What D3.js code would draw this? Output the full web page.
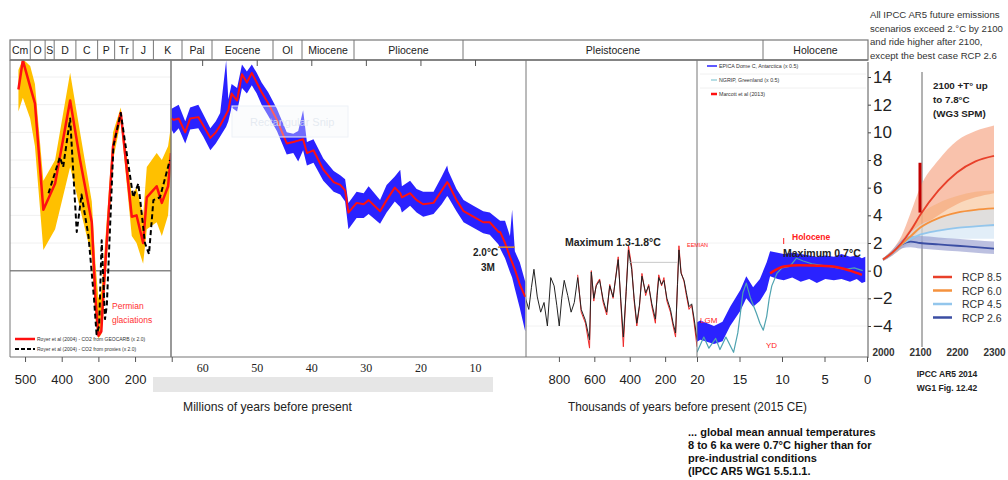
<!DOCTYPE html>
<html>
<head>
<meta charset="utf-8">
<script src="https://cdn.jsdelivr.net/npm/d3@7"></script>
<style>
body { margin: 0; background: #fff; }
svg { display: block; font-family: "Liberation Sans", Arial, sans-serif; }
</style>
</head>
<body>
<div id="chart"></div>
<script>
// ---- Data ----

// Geological periods (start age, Ma)
var periodNames = ["Cm", "O", "S", "D", "C", "P", "Tr", "J", "K", "Pal", "Eocene", "Ol", "Miocene", "Pliocene", "Pleistocene", "Holocene"];
var periodStarts = [541, 485, 444, 419, 359, 299, 252, 201, 145, 66, 56, 34, 23, 5.3, 2.6, 0.0117];

// Royer et al (2004) - GEOCARB (red) with uncertainty band
var geoAge = [518, 506, 486, 473, 450, 418, 377, 350, 318, 308, 300, 292, 287, 260, 239, 209, 196, 178, 168, 141, 127, 110, 102];
var geoTemp = [13.1, 15.2, 13.3, 12.1, 4.4, 6.3, 12.3, 8.0, 3.5, -2.0, -4.7, -4.4, -1.9, 9.0, 11.4, 3.9, 4.0, 2.0, 5.3, 6.1, 4.9, 6.1, 8.5];
var geoLow = [11.5, 12.5, 11.0, 9.0, 1.5, 3.0, 7.5, 4.5, 1.0, -3.5, -4.9, -4.6, -3.5, 8.0, 10.8, 2.5, 2.0, 0.5, 3.0, 3.5, 2.5, 4.0, 7.5];
var geoHigh = [14.5, 15.3, 14.8, 13.5, 6.5, 8.0, 14.3, 10.0, 5.0, 0.5, -2.0, -1.5, 0.0, 10.0, 11.8, 5.5, 6.0, 4.0, 7.5, 8.5, 8.0, 9.0, 10.5];

// Royer et al (2004) - proxies (black dashed)
var proxyAge = [436, 405, 396, 377, 359, 346, 327, 312, 305, 298, 291, 282, 277, 259, 239, 205, 191, 173, 162, 150, 132, 105];
var proxyTemp = [5.6, 8.2, 7.5, 11.0, 2.8, 5.5, 2.5, -2.0, -4.6, -4.0, 2.2, -3.5, -2.5, 9.0, 11.4, 5.3, 6.3, 2.0, 1.2, 5.1, 5.3, 8.0];

// Cenozoic (Ma): smoothed red line and blue spread
var cenAge = [65.6, 65.2, 64.3, 63.1, 62.2, 60.7, 59.8, 58.5, 57.5, 56.7, 55.6, 55.2, 54.6, 53.6, 52.7, 51.8, 50.9, 50.0, 49.1, 47.9, 46.3, 44.5, 43.3, 42.4, 41.5, 40.8, 39.6, 37.8, 35.9, 34.7, 33.8, 33.2, 31.7, 30.4, 29.5, 27.4, 26.2, 24.7, 23.7, 23.4, 21.9, 20.7, 19.5, 17.6, 16.1, 15.1, 14.9, 13.4, 12.1, 10.3, 8.5, 7.3, 5.7, 5.4, 4.5, 3.6, 3.2, 2.7, 1.8, 0.8];
var cenTemp = [11.0, 10.9, 11.0, 10.0, 11.0, 11.1, 10.5, 9.6, 10.0, 10.5, 11.3, 11.6, 12.8, 12.3, 14.2, 13.6, 14.3, 13.6, 12.9, 12.1, 10.9, 9.2, 9.3, 9.4, 9.5, 8.5, 8.7, 7.3, 6.4, 6.2, 5.8, 4.2, 4.9, 4.8, 5.1, 4.3, 5.1, 6.0, 5.6, 5.3, 5.6, 5.1, 4.8, 4.9, 5.8, 6.4, 6.3, 5.1, 4.3, 3.9, 3.5, 3.5, 2.8, 2.8, 2.0, 1.0, 0.6, 0.1, -1.0, -1.9];
var cenLow = [10.2, 9.9, 10.3, 9.2, 10.2, 10.3, 9.7, 8.7, 9.2, 9.7, 10.4, 10.8, 11.8, 11.5, 13.2, 12.8, 13.4, 12.8, 12.0, 11.2, 10.1, 8.4, 8.5, 7.9, 8.7, 7.6, 7.8, 6.5, 5.7, 5.5, 5.0, 3.0, 3.8, 3.8, 4.1, 3.4, 4.2, 5.0, 4.6, 4.2, 4.7, 4.2, 3.9, 4.1, 4.8, 5.4, 5.3, 4.3, 3.5, 3.1, 2.7, 2.6, 1.9, 1.6, 0.9, -0.1, -0.5, -1.3, -2.7, -4.4];
var cenHigh = [11.7, 11.8, 12.0, 10.8, 11.8, 12.0, 11.3, 10.3, 10.8, 11.4, 15.2, 12.4, 13.5, 13.2, 14.9, 14.4, 14.9, 14.3, 13.6, 12.9, 11.7, 10.0, 9.9, 10.1, 11.6, 9.3, 9.5, 8.1, 7.2, 6.9, 6.6, 4.9, 5.7, 5.6, 6.1, 5.1, 6.2, 6.8, 7.3, 6.1, 6.5, 5.9, 5.7, 5.7, 6.8, 7.6, 7.2, 5.9, 5.1, 4.7, 4.3, 4.2, 3.7, 3.6, 3.6, 2.5, 4.4, 1.4, 0.6, -0.8];

// Pleistocene (ka): black and red records
var pleAge = [989, 970, 955, 941, 922, 903, 884, 865, 846, 827, 812, 798, 784, 770, 750, 731, 713, 694, 674, 650, 627, 617, 603, 589, 570, 550, 530, 513, 494, 465, 450, 436, 420, 407, 389, 375, 360, 345, 331, 310, 293, 275, 255, 245, 236, 220, 207, 190, 170, 155, 141, 130, 122, 110, 93, 80, 65, 50, 36, 20];
var pleBlack = [-2.0, -2.8, -1.2, 0.1, -1.9, -3.0, -2.3, -4.0, -0.5, -1.1, -2.5, -4.0, -2.0, -0.7, -1.8, -3.0, -2.3, -0.5, -2.8, -3.6, -5.0, -0.1, -2.0, -1.1, -0.7, -2.1, -3.0, -1.1, -1.9, 0.8, -2.2, -4.8, -1.5, 1.5, 0.1, -2.0, -3.8, -2.5, -0.4, -1.6, -1.1, -2.4, -3.5, -1.8, -0.5, -1.0, -0.7, -2.0, -2.8, -3.8, -4.5, -1.0, 1.5, -0.2, -0.7, -1.6, -2.6, -2.4, -3.5, -5.0];
var pleRedAge = [694, 674, 650, 627, 617, 603, 589, 570, 550, 530, 513, 494, 465, 450, 436, 420, 407, 389, 375, 360, 345, 331, 310, 293, 275, 255, 245, 236, 220, 207, 190, 170, 155, 141, 130, 122, 110, 93, 80, 65, 50, 36, 20];
var pleRed = [-0.3, -3.0, -3.8, -5.6, 0.0, -2.2, -1.0, -0.6, -2.3, -3.2, -1.0, -2.0, 1.0, -2.4, -5.5, -1.4, 1.8, 0.3, -2.2, -4.0, -2.6, -0.2, -1.8, -1.0, -2.6, -3.8, -1.6, -0.3, -1.1, -0.5, -2.2, -3.0, -4.0, -4.8, -0.8, 1.8, -0.1, -0.8, -1.8, -2.8, -2.5, -3.8, -5.5];

// Last 20 ka: EPICA Dome C (blue spread)
var epicaAge = [20.2, 19.6, 18.0, 17.0, 16.1, 14.9, 14.2, 13.4, 12.6, 11.8, 11.4, 10.5, 9.8, 8.8, 7.8, 6.8, 5.9, 4.9, 3.9, 3.0, 2.0, 1.2, 0.6, 0.2];
var epicaTemp = [-4.5, -4.3, -4.7, -4.5, -3.3, -2.1, -1.1, -1.9, -1.4, -0.4, 0.6, 0.4, 0.3, 0.4, 0.2, 0.3, 0.1, 0.3, 0.2, 0.3, 0.1, 0.2, 0.0, 0.1];
var epicaLow = [-5.2, -5.0, -5.3, -5.1, -4.0, -2.9, -2.0, -2.6, -2.2, -1.4, -0.4, -0.6, -0.7, -0.5, -0.8, -0.6, -0.9, -0.6, -0.7, -0.6, -0.8, -0.6, -0.9, -0.8];
var epicaHigh = [-3.8, -3.6, -4.0, -3.7, -2.6, -1.4, -0.4, -1.2, -0.6, 0.6, 1.4, 1.3, 1.2, 1.3, 1.2, 1.1, 1.0, 1.1, 1.0, 1.2, 1.0, 1.1, 0.9, 1.0];

// NGRIP, Greenland
var ngripAge = [20.0, 19.2, 18.6, 17.8, 17.3, 16.6, 15.7, 15.2, 14.9, 14.6, 14.2, 13.7, 13.0, 12.6, 12.2, 11.8, 11.5, 11.2, 10.6, 10.0, 9.1, 8.3, 7.5, 6.5, 5.5, 4.5, 3.5, 2.5, 1.5, 0.5];
var ngripTemp = [-5.9, -4.8, -5.6, -4.9, -5.7, -4.8, -5.9, -4.5, -3.1, -1.6, -0.9, -2.0, -3.1, -3.8, -4.3, -3.3, -2.0, -1.1, -0.2, 0.2, 0.3, 0.9, 0.7, 0.5, 0.4, 0.3, 0.2, 0.1, 0.2, 0.0];

// Marcott et al (2013)
var marcottAge = [11.4, 9.8, 7.9, 5.9, 4.0, 2.0, 0.6];
var marcottTemp = [-0.2, 0.3, 0.4, 0.36, 0.3, 0.0, -0.3];

// IPCC AR5 WG1 Fig. 12.42 projections
var rcpYears = [2000, 2025, 2050, 2075, 2100, 2150, 2200, 2250, 2300];
var rcp85 = [0.8, 1.3, 2.0, 2.9, 4.0, 5.8, 7.1, 7.9, 8.3];
var rcp85Low = [0.7, 1.1, 1.6, 2.2, 3.0, 4.0, 4.8, 5.3, 5.6];
var rcp85High = [0.9, 1.5, 2.5, 4.2, 6.0, 8.0, 9.4, 10.1, 10.5];
var rcp60 = [0.8, 1.3, 1.9, 2.5, 3.1, 3.8, 4.2, 4.4, 4.5];
var rcp60Low = [0.7, 1.1, 1.6, 2.1, 2.5, 2.9, 3.1, 3.2, 3.2];
var rcp60High = [0.9, 1.5, 2.2, 3.1, 4.0, 4.9, 5.4, 5.7, 5.8];
var rcp45 = [0.8, 1.3, 1.9, 2.3, 2.6, 2.9, 3.1, 3.2, 3.3];
var rcp45Low = [0.7, 1.1, 1.6, 1.9, 2.1, 2.2, 2.3, 2.3, 2.3];
var rcp45High = [0.9, 1.5, 2.2, 2.8, 3.3, 3.8, 4.2, 4.4, 4.5];
var rcp26 = [0.8, 1.3, 1.9, 2.1, 2.0, 1.9, 1.8, 1.7, 1.6];
var rcp26Low = [0.7, 1.1, 1.6, 1.7, 1.6, 1.5, 1.4, 1.3, 1.2];
var rcp26High = [0.9, 1.5, 2.2, 2.5, 2.5, 2.4, 2.3, 2.2, 2.1];
var rcpNames = ["RCP 8.5", "RCP 6.0", "RCP 4.5", "RCP 2.6"];
var wg3Range = [4.2, 7.8];

// Tick labels
var tempTicks = [14, 12, 10, 8, 6, 4, 2, 0, -2, -4];
var geoTicks = [500, 400, 300, 200, 100];
var cenTicks = [60, 50, 40, 30, 20, 10];
var pleTicks = [800, 600, 400, 200];
var holTicks = [20, 15, 10, 5, 0];
var rcpTicks = [2000, 2100, 2200, 2300];

// ---- Setup ----
var svgWidth = 1008;
var svgHeight = 480;

var svg = d3.select("#chart")
    .append("svg")
    .attr("width", svgWidth)
    .attr("height", svgHeight);

svg.append("rect").attr("width", svgWidth).attr("height", svgHeight).attr("fill", "#fff");

var top0 = 60, bottom0 = 357;

// Temperature scale shared by all panels
var y = d3.scaleLinear().domain([-4, 14]).range([326, 77]);

// One x scale per panel
var xGeo = d3.scaleLinear().domain([541, 102]).range([10, 171]);
var xCen = d3.scaleLinear().domain([66, 0]).range([169.4, 529.6]);
var xPle = d3.scaleLinear().domain([1000, 20]).range([523.5, 697]);
var xHol = d3.scaleLinear().domain([20, 0]).range([697, 867]);
var xRcp = d3.scaleLinear().domain([2000, 2300]).range([883, 994]);
var xPeriod = d3.scaleLinear()
    .domain([541, 66, 56, 34, 23, 5.3, 2.6, 0.0117, 0])
    .range([10, 182, 212, 273, 302, 354, 463, 763, 868]);

function pairs(xs, ys) { return xs.map(function (d, i) { return [d, ys[i]]; }); }
function spread(xs, lo, hi) { return xs.map(function (d, i) { return { x: d, lo: lo[i], hi: hi[i] }; }); }

function drawLine(g, xScale, xs, ys, color, width, dash, curve) {
    return g.append("path")
        .datum(pairs(xs, ys))
        .attr("fill", "none")
        .attr("stroke", color)
        .attr("stroke-width", width)
        .attr("stroke-dasharray", dash || null)
        .attr("stroke-linejoin", "round")
        .attr("d", d3.line().curve(curve || d3.curveLinear).x(d => xScale(d[0])).y(d => y(d[1])));
}

function drawBand(g, xScale, xs, lo, hi, color, opacity, curve) {
    return g.append("path")
        .datum(spread(xs, lo, hi))
        .attr("fill", color)
        .attr("fill-opacity", opacity)
        .attr("d", d3.area().curve(curve || d3.curveLinear).x(d => xScale(d.x)).y0(d => y(d.lo)).y1(d => y(d.hi)));
}

function clip(id, x0, x1) {
    svg.append("clipPath").attr("id", id)
        .append("rect").attr("x", x0).attr("y", top0).attr("width", x1 - x0).attr("height", bottom0 - top0);
    return svg.append("g").attr("clip-path", "url(#" + id + ")");
}

function addText(x, yy, str, size, color, weight, anchor) {
    return svg.append("text")
        .attr("x", x).attr("y", yy)
        .attr("font-size", size)
        .attr("fill", color || "#222")
        .attr("font-weight", weight || "normal")
        .attr("text-anchor", anchor || "start")
        .text(str);
}

// ---- Left panel: Phanerozoic ----
var geoG = clip("clipGeo", 10, 171);
geoG.selectAll("line.grid")
    .data([2, 4, 6, 8, 10, 12, 14])
    .enter().append("line")
    .attr("x1", 10).attr("x2", 171)
    .attr("y1", d => y(d)).attr("y2", d => y(d))
    .attr("stroke", "#f0f0f0");
geoG.append("line").attr("x1", 10).attr("x2", 171).attr("y1", y(0)).attr("y2", y(0))
    .attr("stroke", "#888").attr("stroke-width", 1.5);
drawBand(geoG, xGeo, geoAge, geoLow, geoHigh, "#ffc000", 1);
drawLine(geoG, xGeo, geoAge, geoTemp, "#ff1010", 2.5);
drawLine(geoG, xGeo, proxyAge, proxyTemp, "#000", 2, "5,3");

// ---- Cenozoic panel ----
var cenG = clip("clipCen", 171, 526);
drawBand(cenG, xCen, cenAge, cenLow, cenHigh, "#2a22ff", 1);
drawLine(cenG, xCen, cenAge, cenTemp, "#ff1010", 2);
// faint screenshot watermark left in the source figure
svg.append("rect").attr("x", 232).attr("y", 106).attr("width", 116).attr("height", 31)
    .attr("fill", "#f3f6fa").attr("fill-opacity", 0.35).attr("stroke", "#eef2f7");
svg.append("text").attr("x", 250).attr("y", 126).attr("font-size", 11).attr("fill", "#dfe6ee").attr("fill-opacity", 0.8).text("Rectangular Snip");
svg.append("line").attr("x1", xCen(5.8)).attr("x2", xCen(2.7)).attr("y1", y(1.7)).attr("y2", y(1.7))
    .attr("stroke", "#e0902a").attr("stroke-width", 1.5);

// ---- Pleistocene panel ----
var pleG = clip("clipPle", 526, 697);
pleG.selectAll("line.grid")
    .data([-2, -4])
    .enter().append("line")
    .attr("x1", 526).attr("x2", 697)
    .attr("y1", d => y(d)).attr("y2", d => y(d))
    .attr("stroke", "#f2f2f2");
drawLine(pleG, xPle, pleRedAge, pleRed, "#ee2a2a", 1);
drawLine(pleG, xPle, pleAge, pleBlack, "#222", 1);
pleG.append("line").attr("x1", xPle(410)).attr("x2", xPle(130)).attr("y1", y(0.6)).attr("y2", y(0.6))
    .attr("stroke", "#bbb").attr("stroke-width", 0.8);

// ---- Last 20 ka panel ----
var holG = clip("clipHol", 697, 867);
holG.selectAll("line.grid")
    .data([2, -2, -4])
    .enter().append("line")
    .attr("x1", 697).attr("x2", 867)
    .attr("y1", d => y(d)).attr("y2", d => y(d))
    .attr("stroke", "#f2f2f2");
drawBand(holG, xHol, epicaAge, epicaLow, epicaHigh, "#2a22ff", 1);
drawLine(holG, xHol, ngripAge, ngripTemp, "#4fa3b0", 1.2);
drawLine(holG, xHol, marcottAge, marcottTemp, "#ff1010", 2.5, null, d3.curveMonotoneX);

// ---- Panel frames ----
var frame = "#777";
svg.append("rect").attr("x", 10).attr("y", 40).attr("width", 858).attr("height", 20)
    .attr("fill", "none").attr("stroke", frame).attr("stroke-width", 1.2);
svg.append("line").attr("x1", 10).attr("x2", 868).attr("y1", top0).attr("y2", top0).attr("stroke", frame).attr("stroke-width", 1.5);
svg.append("line").attr("x1", 10).attr("x2", 868).attr("y1", bottom0).attr("y2", bottom0).attr("stroke", frame).attr("stroke-width", 1.2);
[10, 171, 526, 697].forEach(function (x) {
    svg.append("line").attr("x1", x).attr("x2", x).attr("y1", top0).attr("y2", bottom0)
        .attr("stroke", frame).attr("stroke-width", x === 171 ? 1.5 : 1);
});

// Period boxes
var periods = periodNames.map(function (n, i) {
    return { name: n, start: periodStarts[i], end: i < periodStarts.length - 1 ? periodStarts[i + 1] : 0 };
});
svg.selectAll("line.period")
    .data(periods.slice(1))
    .enter().append("line")
    .attr("x1", d => xPeriod(d.start)).attr("x2", d => xPeriod(d.start))
    .attr("y1", 40).attr("y2", 60)
    .attr("stroke", frame);
svg.selectAll("text.period")
    .data(periods)
    .enter().append("text")
    .attr("x", d => (xPeriod(d.start) + xPeriod(d.end)) / 2)
    .attr("y", 54)
    .attr("text-anchor", "middle")
    .attr("font-size", 10.5)
    .attr("font-family", "'Liberation Sans Narrow', 'Liberation Sans', Arial, sans-serif")
    .attr("fill", "#222")
    .text(d => d.name);

// ---- Axes ----
var rightAxis = svg.append("g")
    .attr("transform", "translate(868,0)")
    .call(d3.axisRight(y).tickValues(tempTicks).tickSize(3).tickPadding(2));
rightAxis.select(".domain").remove();
rightAxis.selectAll("line").attr("stroke", "#444");
rightAxis.selectAll("text").attr("font-size", 17).attr("fill", "#222").attr("font-family", "'Liberation Sans', Arial, sans-serif");
svg.append("line").attr("x1", 868).attr("x2", 868).attr("y1", 62).attr("y2", 358).attr("stroke", "#555");

function bottomAxis(scale, ticks, labelled, yy, size, pad, font) {
    var g = svg.append("g")
        .attr("transform", "translate(0," + yy + ")")
        .call(d3.axisBottom(scale).tickValues(ticks).tickSize(size).tickPadding(pad)
            .tickFormat(d => labelled.indexOf(d) >= 0 ? d : ""));
    g.select(".domain").remove();
    g.selectAll("line").attr("stroke", "#555");
    g.selectAll("text").attr("font-size", 13).attr("fill", "#222").attr("font-family", font || "'Liberation Sans', Arial, sans-serif");
    return g;
}

bottomAxis(xGeo, geoTicks, [500, 400, 300, 200], bottom0, 5, 13);
// Cenozoic ticks hang from the top, labels sit below in a serif face
bottomAxis(xCen, cenTicks, [], top0, 6, 0);
svg.append("rect").attr("x", 153).attr("y", 377).attr("width", 340).attr("height", 15).attr("fill", "#e6e6e6");
var cenLab = bottomAxis(xCen, cenTicks, cenTicks, 358, 0, 5, "'Liberation Serif', 'Times New Roman', serif");
cenLab.selectAll("text").attr("font-size", 12);
bottomAxis(xPle, pleTicks, pleTicks, bottom0, 5, 13);
bottomAxis(xHol, holTicks, holTicks, bottom0, 5, 13);

svg.append("text").attr("x", 183).attr("y", 411).attr("font-size", 13).attr("fill", "#222")
    .attr("textLength", 169).attr("lengthAdjust", "spacingAndGlyphs").text("Millions of years before present");
svg.append("text").attr("x", 568).attr("y", 411).attr("font-size", 13).attr("fill", "#222")
    .attr("textLength", 239).attr("lengthAdjust", "spacingAndGlyphs").text("Thousands of years before present (2015 CE)");

// ---- RCP panel ----
var rcpG = svg.append("g");
rcpG.append("line").attr("x1", xRcp(2100) + 2).attr("x2", xRcp(2100) + 2).attr("y1", 72).attr("y2", 347)
    .attr("stroke", "#666");
var rcpSeries = [
    { name: rcpNames[0], v: rcp85, lo: rcp85Low, hi: rcp85High, line: "#e8402a", fill: "#f7ae90", op: 0.75 },
    { name: rcpNames[1], v: rcp60, lo: rcp60Low, hi: rcp60High, line: "#f5923e", fill: "#f4a96a", op: 0.45 },
    { name: rcpNames[2], v: rcp45, lo: rcp45Low, hi: rcp45High, line: "#93c6ec", fill: "#cfe3f3", op: 0.6 },
    { name: rcpNames[3], v: rcp26, lo: rcp26Low, hi: rcp26High, line: "#3b4ea3", fill: "#8f96cc", op: 0.6 }
];
rcpSeries.forEach(function (s) {
    drawBand(rcpG, xRcp, rcpYears, s.lo, s.hi, s.fill, s.op, d3.curveMonotoneX);
});
rcpSeries.slice().reverse().forEach(function (s) {
    drawLine(rcpG, xRcp, rcpYears, s.v, s.line, 1.8, null, d3.curveMonotoneX);
});
rcpG.append("line").attr("x1", xRcp(2100)).attr("x2", xRcp(2100))
    .attr("y1", y(wg3Range[0])).attr("y2", y(wg3Range[1]))
    .attr("stroke", "#c00000").attr("stroke-width", 3);

var rcpAxis = svg.append("g")
    .attr("transform", "translate(0,349)")
    .call(d3.axisBottom(xRcp).tickValues(rcpTicks).tickSize(0).tickPadding(0).tickFormat(d3.format("d")));
rcpAxis.select(".domain").remove();
rcpAxis.selectAll("text").attr("font-size", 10).attr("font-weight", "bold").attr("fill", "#333");

// RCP legend
var leg = svg.selectAll("g.rcpleg")
    .data(rcpSeries)
    .enter().append("g")
    .attr("transform", (d, i) => "translate(933," + (277 + i * 13.5) + ")");
leg.append("line").attr("x1", 0).attr("x2", 19).attr("stroke", d => d.line).attr("stroke-width", 2.5);
leg.append("text").attr("x", 29).attr("y", 4).attr("font-size", 10.5).attr("fill", "#333").text(d => d.name);

// ---- Annotations ----
var noteTop = ["All IPCC AR5 future emissions", "scenarios  exceed 2.°C by 2100", "and ride higher after 2100,", "except the best case RCP 2.6"];
noteTop.forEach(function (t, i) { addText(870, 18 + i * 13.7, t, 9.6, "#333"); });

["2100 +T° up", "to 7.8°C", "(WG3 SPM)"].forEach(function (t, i) { addText(933, 89 + i * 14, t, 9.8, "#222", "bold"); });
["IPCC AR5 2014", "WG1 Fig. 12.42"].forEach(function (t, i) { addText(947, 377 + i * 14, t, 8.5, "#222", "bold", "middle"); });

var noteBottom = ["... global mean annual temperatures", "8 to 6 ka were  0.7°C higher than for", "pre-industrial conditions", "(IPCC AR5 WG1 5.5.1.1."];
noteBottom.forEach(function (t, i) { addText(688, 436 + i * 13, t, 11, "#111", "bold"); });

addText(565, 246, "Maximum 1.3-1.8°C", 10.5, "#222", "bold");
addText(783, 257, "Maximum 0.7°C", 10.5, "#222", "bold");
addText(792, 240, "Holocene", 8.5, "#ff2020", "bold");
addText(687, 247, "EEMIAN", 5.5, "#ff2020");
addText(700, 323, "LGM", 8, "#ff2020");
addText(766, 348, "YD", 8, "#ff2020");
addText(473, 256, "2.0°C", 10, "#222", "bold");
addText(481, 271, "3M", 10, "#222", "bold");
addText(112, 309, "Permian", 8.5, "#ff3030");
addText(112, 323, "glaciations", 8.5, "#ff3030");
svg.append("line").attr("x1", xHol(9.8)).attr("x2", xHol(9.8)).attr("y1", 238).attr("y2", 244).attr("stroke", "#ff2020");

// Left legend
svg.append("line").attr("x1", 15).attr("x2", 35).attr("y1", 339).attr("y2", 339).attr("stroke", "#ff1010").attr("stroke-width", 2.5);
svg.append("line").attr("x1", 15).attr("x2", 35).attr("y1", 349).attr("y2", 349).attr("stroke", "#000").attr("stroke-width", 2).attr("stroke-dasharray", "4,2");
addText(37, 341, "Royer et al (2004) - CO2 from GEOCARB (x 2.0)", 5, "#333");
addText(37, 351, "Royer et al (2004) - CO2 from proxies (x 2.0)", 5, "#333");

// Data legend, top of the last panel
var dataLeg = [
    { name: "EPICA Dome C, Antarctica (x 0.5)", color: "#2a22ff", w: 1.5, x0: 707 },
    { name: "NGRIP, Greenland (x 0.5)", color: "#9fd3dc", w: 1.5, x0: 711 },
    { name: "Marcott et al (2013)", color: "#ff1010", w: 2.5, x0: 711 }
];
var dl = svg.selectAll("g.dleg")
    .data(dataLeg)
    .enter().append("g")
    .attr("transform", (d, i) => "translate(0," + (66 + i * 14) + ")");
dl.append("line").attr("x1", d => d.x0).attr("x2", 717).attr("stroke", d => d.color).attr("stroke-width", d => d.w);
dl.append("text").attr("x", 719).attr("y", 2).attr("font-size", 5.3).attr("fill", "#333").text(d => d.name);
svg.selectAll("line.dsep").data([74, 88]).enter().append("line")
    .attr("x1", 700).attr("x2", 866).attr("y1", d => d).attr("y2", d => d).attr("stroke", "#f0f0f0");
</script>
</body>
</html>
